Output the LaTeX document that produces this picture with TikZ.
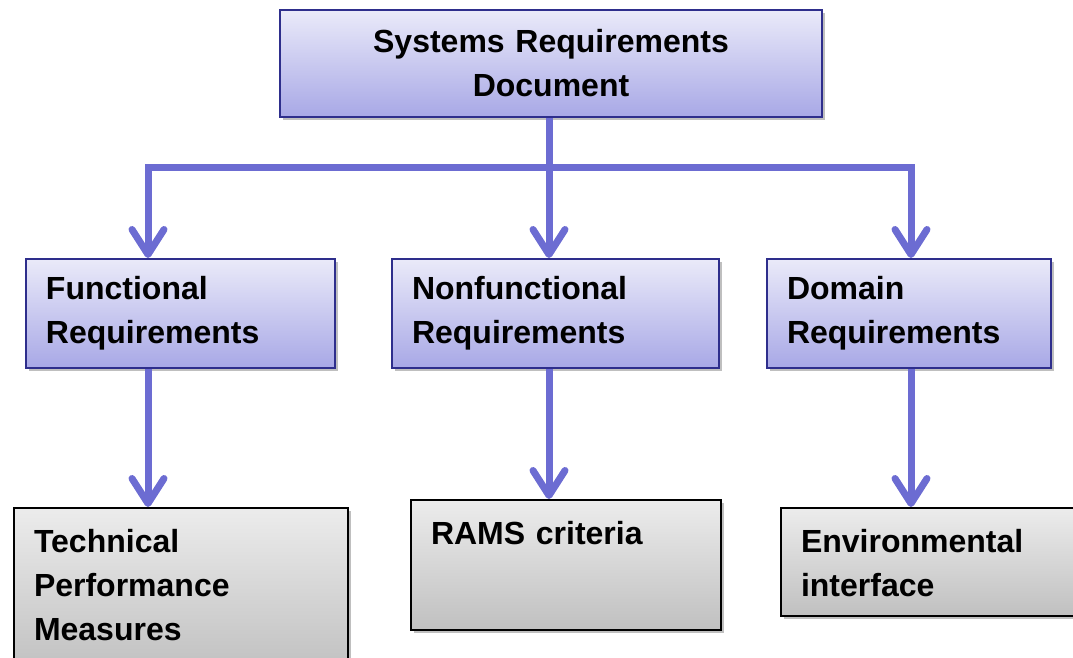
\documentclass[tikz,border=0pt]{standalone}
\usepackage{fontspec}
\setmainfont{Liberation Sans}
\usepackage{tikz}
\usetikzlibrary{arrows.meta, positioning, shadows}

\definecolor{reqline}{RGB}{108,108,210}
\definecolor{reqdraw}{RGB}{46,46,140}
\definecolor{reqtop}{RGB}{234,234,249}
\definecolor{reqbot}{RGB}{168,168,230}
\definecolor{subtop}{RGB}{236,236,236}
\definecolor{subbot}{RGB}{192,192,192}

\begin{document}
\begin{tikzpicture}[
  x=0.5pt, y=-0.5pt,
  barb/.tip={Straight Barb[length=12.5pt, width=16pt, round]},
  blk/.style={rectangle, anchor=north west, line width=1pt,
              draw=reqdraw, top color=reqtop, bottom color=reqbot,
              drop shadow={shadow xshift=1.5pt, shadow yshift=-1.5pt,
                           opacity=0.25, fill=black},
              inner xsep=10pt, inner ysep=8pt, align=left,
              font=\fontsize{16}{22}\selectfont\bfseries},
  sblk/.style={blk, draw=black, top color=subtop, bottom color=subbot,
               text height=14.3pt},
  arr/.style={-barb, line width=3.5pt, reqline},
]
\useasboundingbox (0,0) rectangle (1073,658);

%% ---- top document ----
\node[blk, align=center, text width=251pt, minimum height=53.5pt]
      (srd) at (279,9) {Systems Requirements\\Document};

%% ---- requirement kinds ----
\node[blk, text width=134.5pt, minimum height=54.5pt]
      (func) at (25,258) {Functional\\Requirements};
\node[blk, text width=143.5pt, minimum height=54.5pt]
      (nonf) at (391,258) {Nonfunctional\\Requirements};
\node[blk, text width=122pt, minimum height=54.5pt]
      (dom) at (766,258) {Domain\\Requirements};

%% ---- what they lead to ----
\node[sblk, text width=147pt, text depth=52pt]
      (tpm) at (13,507) {Technical\\Performance\\Measures};
\node[sblk, text width=135pt, text depth=34.7pt]
      (rams) at (410,499) {RAMS criteria};
\node[sblk, text width=145pt, text depth=23.7pt]
      (env) at (780,507) {Environmental\\interface};

%% bus below the document
\coordinate (bus)  at (549,168);
\coordinate (busL) at (148,168);
\coordinate (busR) at (911,168);

\draw[arr] (bus |- srd.south) -- (bus |- nonf.north);
\draw[arr, barb-barb] (busL |- func.north) -- (busL) -- (busR) -- (busR |- dom.north);

\draw[arr] (busL |- func.south) -- (busL |- tpm.north);
\draw[arr] (bus |- nonf.south)  -- (bus |- rams.north);
\draw[arr] (busR |- dom.south)  -- (busR |- env.north);

\end{tikzpicture}
\end{document}
